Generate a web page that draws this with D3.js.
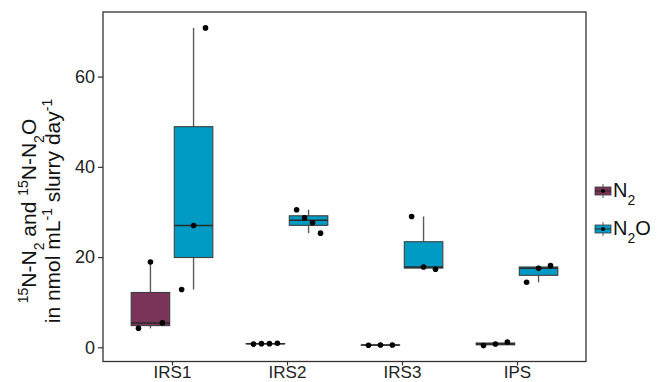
<!DOCTYPE html>
<html>
<head>
<meta charset="utf-8">
<script src="https://cdn.jsdelivr.net/npm/d3@7"></script>
<style>
  html, body { margin: 0; padding: 0; background: #fff; }
  svg { display: block; font-family: "Liberation Sans", Arial, sans-serif; }
</style>
</head>
<body>
<svg id="chart" width="661" height="382"></svg>
<script>
// ---- data (points listed left-to-right as jittered) ----
const categories = ["IRS1", "IRS2", "IRS3", "IPS"];
const seriesNames = ["N2", "N2O"];
const n2Values = [
  [4.2, 18.9, 5.4],
  [0.7, 0.8, 0.8, 0.9],
  [0.45, 0.5, 0.5],
  [0.37, 0.73, 1.17]
];
const n2oValues = [
  [12.8, 27.0, 70.8],
  [30.5, 28.7, 27.6, 25.3],
  [29.0, 17.8, 17.3],
  [14.4, 17.5, 18.1]
];
const yTicks = [0, 20, 40, 60];

// ---- layout ----
const svg = d3.select("#chart");
const panel = { left: 103, top: 12, right: 586, bottom: 361.5 };
const colors = { N2: "#7b3459", N2O: "#009bc4" };

const allVals = n2Values.flat().concat(n2oValues.flat());
const [mn, mx] = d3.extent(allVals);
const pad = (mx - mn) * 0.05;

const y = d3.scaleLinear().domain([mn - pad, mx + pad]).range([panel.bottom, panel.top]);
const x = d3.scalePoint().domain(categories).range([panel.left, panel.right]).padding(0.6);
const step = x.step();
const dodge = d3.scaleBand().domain(seriesNames).range([-0.375 * step, 0.375 * step]);
const boxW = 0.335 * step;

const groups = [];
categories.forEach((c, i) => {
  groups.push({ cat: c, series: "N2", vals: n2Values[i] });
  groups.push({ cat: c, series: "N2O", vals: n2oValues[i] });
});

function stats(vals) {
  const s = vals.slice().sort(d3.ascending);
  const q1 = d3.quantile(s, 0.25), med = d3.quantile(s, 0.5), q3 = d3.quantile(s, 0.75);
  const iqr = q3 - q1;
  const lo = d3.min(s.filter(v => v >= q1 - 1.5 * iqr));
  const hi = d3.max(s.filter(v => v <= q3 + 1.5 * iqr));
  return { q1, med, q3, lo, hi };
}

// ---- boxes ----
const g = svg.append("g");
groups.forEach(gr => {
  const cx = x(gr.cat) + dodge(gr.series) + dodge.bandwidth() / 2;
  const st = stats(gr.vals);
  // whiskers
  g.append("line").attr("x1", cx).attr("x2", cx).attr("y1", y(st.q3)).attr("y2", y(st.hi))
    .attr("stroke", "#5a5a5a").attr("stroke-width", 1.4);
  g.append("line").attr("x1", cx).attr("x2", cx).attr("y1", y(st.q1)).attr("y2", y(st.lo))
    .attr("stroke", "#5a5a5a").attr("stroke-width", 1.4);
  // box
  g.append("rect").attr("x", cx - boxW / 2).attr("y", y(st.q3))
    .attr("width", boxW).attr("height", Math.max(0, y(st.q1) - y(st.q3)))
    .attr("fill", colors[gr.series]).attr("stroke", "#3f3f3f").attr("stroke-width", 1.1);
  // median
  g.append("line").attr("x1", cx - boxW / 2).attr("x2", cx + boxW / 2)
    .attr("y1", y(st.med)).attr("y2", y(st.med))
    .attr("stroke", "#2a2a2a").attr("stroke-width", 1.5);
  // points (spread evenly across the box, in listed order)
  const n = gr.vals.length;
  const spread = d3.scalePoint().domain(d3.range(n)).range([-0.31 * boxW, 0.31 * boxW]);
  gr.vals.forEach((v, k) => {
    g.append("circle").attr("cx", cx + spread(k)).attr("cy", y(v)).attr("r", 2.8).attr("fill", "#000");
  });
});

// ---- panel border ----
svg.append("rect").attr("x", panel.left).attr("y", panel.top)
  .attr("width", panel.right - panel.left).attr("height", panel.bottom - panel.top)
  .attr("fill", "none").attr("stroke", "#333").attr("stroke-width", 1.3);

// ---- axes ----
const yAxis = svg.append("g").attr("transform", `translate(${panel.left},0)`)
  .call(d3.axisLeft(y).tickValues(yTicks).tickSize(5).tickPadding(3));
yAxis.select(".domain").remove();
yAxis.selectAll("line").attr("stroke", "#333").attr("stroke-width", 1.2);
yAxis.selectAll("text").attr("font-size", 18).attr("fill", "#222")
  .attr("font-family", "Liberation Sans, Arial, sans-serif");

const xAxis = svg.append("g").attr("transform", `translate(0,${panel.bottom})`)
  .call(d3.axisBottom(x).tickSize(4).tickPadding(0));
xAxis.select(".domain").remove();
xAxis.selectAll("line").attr("stroke", "#333").attr("stroke-width", 1.2);
xAxis.selectAll("text").attr("font-size", 17).attr("fill", "#222")
  .attr("font-family", "Liberation Sans, Arial, sans-serif");

// ---- y axis title ----
const yt = svg.append("text").attr("transform", "translate(36,211) rotate(-90)")
  .attr("text-anchor", "middle").attr("font-size", 21).attr("fill", "#111");
function addRuns(el, runs) {
  runs.forEach(r => {
    const ts = el.append("tspan").text(r[0]);
    if (r[1] === "sup") ts.attr("font-size", 14).attr("baseline-shift", "super");
    if (r[1] === "sub") ts.attr("font-size", 14).attr("baseline-shift", "sub");
  });
}
addRuns(yt, [["15", "sup"], ["N-N"], ["2", "sub"], [" and "], ["15", "sup"], ["N-N"], ["2", "sub"], ["O"]]);
const yt2 = svg.append("text").attr("transform", "translate(60,211) rotate(-90)")
  .attr("text-anchor", "middle").attr("font-size", 21).attr("fill", "#111");
addRuns(yt2, [["in nmol mL"], ["-1", "sup"], [" slurry day"], ["-1", "sup"]]);

// ---- legend ----
const legendItems = [
  { name: "N2", label: [["N"], ["2", "sub"]], cy: 191 },
  { name: "N2O", label: [["N"], ["2", "sub"], ["O"]], cy: 229 }
];
legendItems.forEach(it => {
  const lg = svg.append("g");
  const kx = 603;
  lg.append("line").attr("x1", kx).attr("x2", kx).attr("y1", it.cy - 7).attr("y2", it.cy + 7)
    .attr("stroke", "#555").attr("stroke-width", 1);
  lg.append("rect").attr("x", kx - 8).attr("y", it.cy - 4).attr("width", 16).attr("height", 8)
    .attr("fill", colors[it.name]).attr("stroke", "#3a3a3a").attr("stroke-width", 0.8);
  lg.append("line").attr("x1", kx - 8).attr("x2", kx + 8).attr("y1", it.cy).attr("y2", it.cy)
    .attr("stroke", "#2a2a2a").attr("stroke-width", 1);
  lg.append("circle").attr("cx", kx).attr("cy", it.cy).attr("r", 2).attr("fill", "#000");
  const t = lg.append("text").attr("x", 613).attr("y", it.cy + 6).attr("font-size", 20).attr("fill", "#111");
  it.label.forEach(r => {
    const ts = t.append("tspan").text(r[0]);
    if (r[1] === "sub") ts.attr("font-size", 14).attr("baseline-shift", "sub");
  });
});
</script>
</body>
</html>
